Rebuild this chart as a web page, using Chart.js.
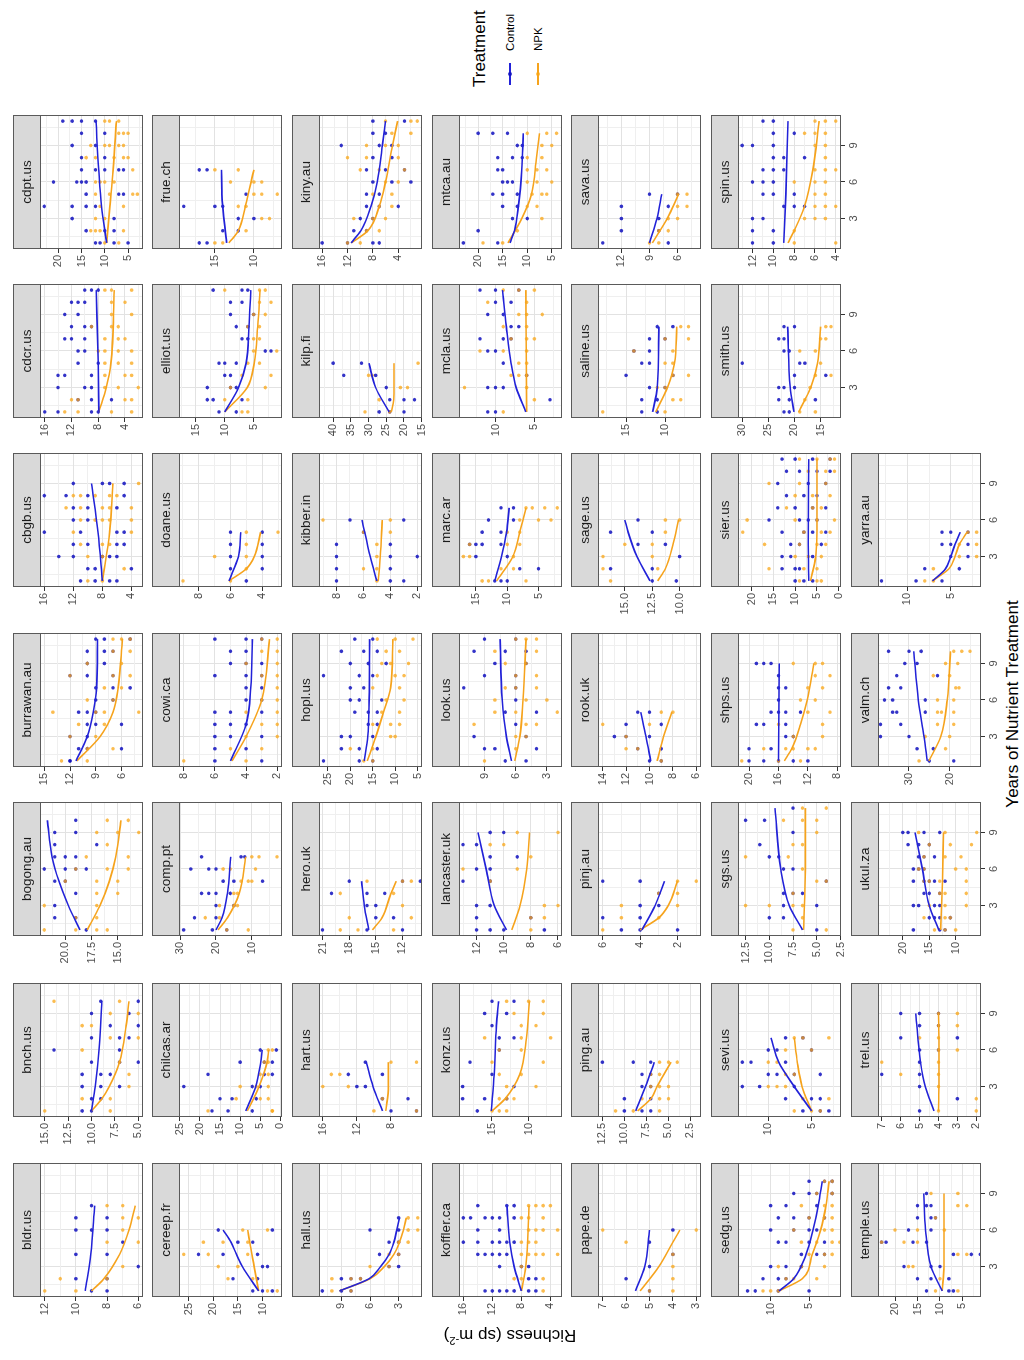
<!DOCTYPE html>
<html>
<head>
<meta charset="utf-8">
<title>Richness by years of nutrient treatment</title>
<script src="https://cdn.jsdelivr.net/npm/chart.js@4.4.1/dist/chart.umd.min.js"></script>
<style>
  html, body { margin: 0; padding: 0; background: #fff; }
  body { width: 1024px; height: 1360px; overflow: hidden; position: relative;
         font-family: "Liberation Sans", Arial, sans-serif; }
  /* the figure is laid out unrotated (1360 x 1024) and turned a quarter left */
  #page { position: absolute; left: 0; top: 0; width: 1360px; height: 1024px;
          transform-origin: 0 0; transform: translate(0, 1360px) rotate(-90deg); }
  #page canvas { position: absolute; }
  .txt { position: absolute; color: #000; white-space: nowrap; }
  .key { position: absolute; height: 2px; width: 22px; }
  .dot { position: absolute; width: 4px; height: 4px; border-radius: 2px; }
</style>
</head>
<body>
<div id="page"></div>
<script>
// Sites in facet order
const sites = ['bldr.us','bnch.us','bogong.au','burrawan.au','cbgb.us','cdcr.us','cdpt.us',
  'cereep.fr','chilcas.ar','comp.pt','cowi.ca','doane.us','elliot.us','frue.ch',
  'hall.us','hart.us','hero.uk','hopl.us','kibber.in','kilp.fi','kiny.au',
  'koffler.ca','konz.us','lancaster.uk','look.us','marc.ar','mcla.us','mtca.au',
  'pape.de','ping.au','pinj.au','rook.uk','sage.us','saline.us','sava.us',
  'sedg.us','sevi.us','sgs.us','shps.us','sier.us','smith.us','spin.us',
  'temple.us','trel.us','ukul.za','valm.ch','yarra.au'];

const treatments = ['Control', 'NPK'];
const yearTicks = [3, 6, 9];
const yearLim = [0.5, 11.5];

// richness axis limits and labelled ticks, per site
const yLims = [[5.7,12.3],[4.5,15.5],[12.6,22.4],[3.5,15.5],[2.4,16.6],[1.3,16.7],[1.8,23.9],
  [6.05,26.95],[-0.4,25.2],[1.6,30.3],[1.7,8.3],[2.75,9.25],[0.1,17.9],[6.4,19.6],
  [0.55,11.35],[4.35,16.45],[9.8,21.4],[4,27],[1.65,9.3],[14.9,44],[0.25,16.5],
  [2.4,16.6],[5.45,19.5],[5.7,13.3],[1.55,11.45],[1.25,17.7],[1.45,14.7],[2.9,23.9],
  [2.8,7.2],[1.3,13.0],[0.75,6.25],[5.6,14.4],[8.05,17.45],[5.4,18.6],[3.5,14.5],
  [0.85,14.25],[1.6,13.5],[2.45,13.3],[7.5,21.5],[-0.5,23.1],[11.1,30.8],[3.5,13.4],
  [0.85,23.8],[1.75,7.2],[5.2,24.7],[12.3,37.6],[1.5,13.4]];
const yTicks = [[6,8,10,12],[5,7.5,10,12.5,15],[15,17.5,20],[6,9,12,15],[4,8,12,16],[4,8,12,16],[5,10,15,20],
  [10,15,20,25],[0,5,10,15,20,25],[10,20,30],[2,4,6,8],[4,6,8],[5,10,15],[10,15],
  [3,6,9],[8,12,16],[12,15,18,21],[5,10,15,20,25],[2,4,6,8],[15,20,25,30,35,40],[4,8,12,16],
  [4,8,12,16],[10,15],[6,8,10,12],[3,6,9],[5,10,15],[5,10],[5,10,15,20],
  [3,4,5,6,7],[2.5,5,7.5,10,12.5],[2,4,6],[6,8,10,12,14],[10,12.5,15],[10,15],[6,9,12],
  [5,10],[5,10],[2.5,5,7.5,10,12.5],[8,12,16,20],[0,5,10,15,20],[15,20,25,30],[4,6,8,10,12],
  [5,10,15,20],[2,3,4,5,6,7],[10,15,20],[20,30],[5,10]];

// observed plot richness: [year, values...]
const ctrlPts = [
  [[1,9,8],[2,10,8],[3,6],[4,10,8],[5,7],[6,10,9,8],[7,10,8],[8,9]],
  [[1,11,10],[2,10,9],[3,11,9,7],[4,11,9,8],[5,10,7,5],[6,14,7],[7,10,7,6],[8,8,5],[9,10,6],[10,9,5]],
  [[1,18],[2,21,19],[3,21],[4,19],[5,21,20],[6,22,20,19,18],[7,21,20,19],[8,21,17],[9,21,19],[10,19]],
  [[1,12,12],[2,11,10,6],[3,12,10],[4,10,9,6],[5,11,10,9],[6,9,7],[7,9,7,5],[8,12,10,7],[9,10,8],[10,10,8,7],[11,9,8,5]],
  [[1,11,9,7,6],[2,10,9,4],[3,14,12,8,7,6],[4,12,10,6,5],[5,16,11,6,5],[6,12,10],[7,12,10,6],[8,16,13,10,5],[9,12,8,7,5]],
  [[1,16,14,9,8],[2,11,9,6],[3,14,10,9],[4,14,13,9],[5,11,8],[6,11,10],[7,13,12,10],[8,12,10,9],[9,13,11],[10,12,11,10],[11,10,9,8]],
  [[1,12,11,8,5],[2,14,10,8],[3,17,8],[4,23,17,14,12],[5,14,7,6],[6,21,16,15,14],[7,15,12,10,7,6],[8,15,10],[9,17,12],[10,15,10],[11,19,17,15,12]],
  [[1,12,10,8],[2,16,11],[3,10,9],[4,23,18,11],[5,15,12],[6,19,8]],
  [[1,17,13,7],[2,15,12,6],[3,24,7,5],[4,18,4,2],[5,10,4,2],[6,5,1]],
  [[1,29,21,17],[2,26,20],[3,20,15],[4,24,22,20,16],[5,18,15,7],[6,27,22,20],[7,24,13,12]],
  [[1,6,3],[2,6,4],[3,6,5,3],[4,6,5,4],[5,6,5,3],[6,4,3],[7,4,3],[8,6,4,3],[9,5,4,3],[10,5,4],[11,6,4,3]],
  [[1,5],[2,6,4],[3,6,4],[4,6,4],[5,6,4]],
  [[1,11,8],[2,13,12,7],[3,13,9,8],[4,10,9],[5,11,10,8],[6,3,2],[7,7,6],[8,8,6],[9,9,5],[10,9,7],[11,12,7,6]],
  [[1,17,16],[2,14,12],[3,12,10],[4,19,15,14],[5,11],[7,17,16]],
  [[1,11,9,8],[2,9,8,7],[3,4,3],[4,5,3],[5,4,3],[6,6,3],[7,3]],
  [[1,8,5],[2,9,6],[3,12,11],[4,13,9],[5,11]],
  [[1,21,16,12],[2,15,13],[3,16,15],[4,20,16,14],[5,18,12,10]],
  [[1,26,18,15],[2,22,18,14],[3,22,20,15],[4,16,14],[5,19,16,14],[6,20,18,13],[7,20,17],[8,26,18,15],[9,20,16,12],[10,22,17,14],[11,19,15]],
  [[1,8,4,3],[2,8,4],[3,8,4,2],[4,8,4],[5,6],[6,7,3]],
  [[1,27,24,20],[2,24,20,17],[3,25],[4,37,28],[5,40,32]],
  [[1,16,12,8,7],[2,11,9],[3,10,8],[4,9,7,4],[5,9,7],[6,8,5,2],[7,9,6,3],[8,8,5],[9,13,7,5],[10,8,6],[11,8,3]],
  [[1,13,12,11,10,9,7,6],[2,7,6],[3,11,8,7],[4,14,13,12,11,10],[5,16,14,12,11,10,9],[6,14,11],[7,16,15,13,12,11,9],[8,14,10,9]],
  [[1,17],[2,19,16,13],[3,19,12],[4,15],[5,18],[6,14],[7,14,12],[8,15],[9,16,13],[10,15,12]],
  [[1,12,11,10,7],[2,12,8],[3,12,11],[5,13,11],[6,12,11],[7,11,9],[8,13,12],[9,11,10]],
  [[1,7,5],[2,9,8,4],[3,10,5],[4,6],[5,7,4],[6,6],[7,11,6],[8,9,6],[9,8,5],[10,10,7,5],[11,9,6]],
  [[1,12,11,10],[2,8,5],[3,15,10],[4,16,15,14,11],[5,14,11],[6,13,9],[7,11,9]],
  [[1,11,10,1],[2,3],[3,11,10,9],[4,6],[5,9],[6,11,10],[7,12,9,8],[8,8,7],[9,11,9],[10,10,8],[11,12,10,7]],
  [[1,23,16],[2,20],[3,13,10],[4,15,12],[5,17,15,12],[6,15,14,13],[7,16,15],[8,16,13,11],[9,12,11],[10,20,17,14]],
  [[1,5],[2,6],[3,5],[4,4],[5,5],[6,4]],
  [[1,10,8,7],[2,10,7],[3,8,7],[4,8,7],[5,12.5,9,7]],
  [[1,5,4,2],[2,6,4],[3,4,3],[4,3],[5,6,4]],
  [[1,10,9],[2,11,9],[3,13,12,10],[4,12,9],[5,11,10]],
  [[1,12.5,10.3],[2,16.3,12.5],[3,10],[4,13.8,11.3],[5,16.3,12.5],[6,13.8]],
  [[1,13,11],[2,13,11],[3,12,10],[4,15,9],[5,13,12],[6,14,12],[7,12,10],[8,11,9]],
  [[1,14,7],[2,12,8],[3,12,8],[4,12,7],[5,9,6]],
  [[1,13,12,9,5],[2,11,9,8],[3,10,8,6],[4,6,4,3],[5,9,8,5,3],[6,10,7,5,4],[7,9,7,5,3],[8,10,8,4],[9,7,5,4,2],[10,5,3,2]],
  [[1,6,4,3],[2,8,5,4],[3,13,11,7],[4,10,9,7,4],[5,13,12,8],[6,10,9,5],[7,8,6]],
  [[1,5],[2,10,8.5],[3,8.5,5],[4,8.5,7.5,6.5],[5,4],[6,8.5,7.5],[7,10,9],[8,11],[9,7.5],[10,12.5,10.5],[11,7.5]],
  [[1,20,18,16,14,12],[2,20,17],[3,15,14],[4,19,18,15],[5,17,16,15,13],[6,16],[7,16,15],[8,16],[9,19,18,17]],
  [[1,10,8,6],[2,13,10,9],[3,13,11,6],[4,11,9,4],[5,13,8,6,3],[6,16,9,7,5],[7,14,10,6,3],[8,12,8,5],[9,14,7,3],[10,12,9,5,2],[11,13,10,6,2]],
  [[1,22,21],[2,23,21,16],[3,23,22,20],[4,20,14],[5,30,19,18],[6,22,21],[7,23,22],[8,22,20]],
  [[1,12,10],[2,12,10],[3,12,11],[4,9,8,7],[5,11,10,8],[6,12,11,10],[7,11,10,9],[8,10,9,7],[9,13,12,10],[10,10,8],[11,11,10]],
  [[1,13,8,7],[2,15,12,8],[3,18,12,10],[4,7,3,1],[5,23,22,16,13],[6,17,12],[7,15,12,11],[8,15,13,12],[9,13]],
  [[1,5],[2,3],[3,5],[4,7,5],[5,5],[6,5,4],[7,6,3],[8,5,4],[9,6,5,4]],
  [[1,18,13,12],[2,15,14,13,11],[3,18,17,14,13],[4,16,15,13],[5,18,16,15,14,12],[6,18,17,16],[7,17,16,14],[8,19,17,15],[9,20,19,16,13]],
  [[1,25,19],[2,28,24],[3,37,30],[4,37,32],[5,34,33,26],[6,36,34,26],[7,35,32],[8,33,23],[9,31,28],[10,35,30,27]],
  [[1,13,9,6],[2,8,4],[3,5,3],[4,6,5,3],[5,6,5,3]]
];
const npkPts = [
  [[1,12,10],[2,11,8],[3,7],[5,8,6],[6,7],[7,7,6],[8,8,7]],
  [[1,15,8],[2,11,8],[3,6],[4,6],[5,7],[6,11],[7,8,5],[8,11,10],[9,8,5],[10,14,7]],
  [[1,22,19,17,16],[2,19,17],[3,22,17],[4,17,15],[5,20,17,15],[6,19,16,14],[7,18,14],[8,16],[9,17,15,13],[10,16,14]],
  [[1,13,10],[2,10,7],[3,12,9],[4,11,8],[5,14,9,8,4],[6,10,7],[7,8,6],[8,12,7,5],[9,10,6],[10,7,5],[11,7,6,5]],
  [[1,10,8],[2,5],[3,10,8],[4,11,8,7],[5,12,4],[6,11,9,8,7,4],[7,13,11,8,7,4],[8,12,11,9,7,6],[9,3]],
  [[1,13,11,6,3],[2,12,11,4,3],[3,7,5,2],[4,7,4,3],[5,7,5,3],[6,8,7,5,3],[7,7,5,4],[8,9,6,5],[9,6,3],[10,6,4],[11,7,6,3]],
  [[1,10,7],[2,13,12,11,6],[3,12,10],[4,11,6],[5,12,9,4,3],[6,12,11,10,8],[7,4],[8,14,12,8,6,5],[9,13,10,9,7,6],[10,7,6,5],[11,10,9,7]],
  [[1,9,7],[2,17,12],[3,19,15],[4,26,21,13],[5,22,18,13],[6,14,9]],
  [[1,18,2,2],[2,11,5,3],[3,10,6,3],[4,5,3],[5,4,3],[6,3,2]],
  [[1,17,11],[2,23,19],[3,19,15,14],[4,15,14],[5,13,11,10],[6,18,16,9],[7,10,8,3]],
  [[1,8,4],[2,5,3],[3,4,2],[4,3,2],[5,4,2],[6,3,2],[7,2],[8,3,2],[9,4,2],[10,3,2],[11,3,2]],
  [[1,9,6],[2,5],[3,7,5],[4,5],[5,5,3]],
  [[1,7,6],[2,10,6],[3,9,3],[4,7,2],[5,6,4],[6,5,1],[7,5,4],[8,6,4],[9,5,3],[10,4,2],[11,10,4,3]],
  [[1,15,14],[2,11],[3,9,8],[4,12,11],[5,10,9,7],[6,13,10,9],[7,15,12]],
  [[1,10,8],[2,10,8,7],[3,6,4],[4,4,3],[5,3,2],[6,2,1],[7,2,1]],
  [[1,10,5],[2,9],[3,16,13],[4,15,14],[5,8,5]],
  [[1,19,17,13],[2,18,11],[3,12],[4,19,13],[5,16,12,11]],
  [[1,17,15],[2,20,15],[3,11,10],[4,15,11,9],[5,13,9],[6,12,8],[7,15,9],[8,14,10,8],[9,13,11,7],[10,12,9],[11,14,10,6]],
  [[1,5],[2,6,5],[3,5],[4,5],[5,6,4],[6,9,4]],
  [[1,31,24],[2,27],[3,21,19],[4,30,29],[5,16]],
  [[1,12,10],[2,9,7],[3,11,8,6],[4,7,5],[5,8,5],[6,6,4],[7,10,7,3],[8,12,9,4],[9,9,6,4],[10,5,2],[11,6,2,1]],
  [[1,5],[2,9,8,5],[3,8],[4,8,7,6,5,3],[5,8,7,6],[6,7,6,5,3],[7,8,7,5],[8,7,6,5,4]],
  [[1,15,14,13],[2,14,13,12],[3,13,9],[4,14,11],[5,15,8],[6,14,11],[7,16,11,7],[8,11,9],[9,12,8],[10,13,10,8]],
  [[1,8],[2,8,7],[3,7,6],[5,11],[6,13,9],[7,8],[8,11,10],[9,9,6]],
  [[1,9],[2,6],[3,6,5],[4,10,5,4],[5,8,6,2],[6,8,5,3],[7,7,6,4],[8,6,4],[9,7,5],[10,8,4],[11,6,5,4]],
  [[1,14,13,7],[2,11,9],[3,17,16,9],[4,16,10,8],[5,10,8],[6,8,5,3],[7,7,6,4,2]],
  [[1,9],[2,5],[3,14,6],[4,8,7,6],[5,7,6],[6,12,9,6],[7,8,6,5],[8,9,6],[9,7,6,4],[10,11,6],[11,9,7,5]],
  [[1,19,15],[2,12],[3,7],[4,10,8],[5,9,7,6],[6,10,8,5],[7,10,8,6],[8,10,7],[9,7,5],[10,10,6,4]],
  [[1,5,4],[2,4],[3,4],[4,4],[5,6],[6,7,3]],
  [[1,11,9,6],[2,8,6,5],[3,7,6,5],[4,7,6],[5,6,5,4]],
  [[1,6],[2,5,3],[3,5,2],[4,3,2],[5,2,1]],
  [[1,9],[2,12,11],[3,12],[4,14,10],[5,9,8]],
  [[1,16.3],[2,17,12],[3,17,12.5],[4,15,12.5],[5,11.3],[6,11.3,10]],
  [[1,18,10],[2,9,8],[3,11,10],[4,9,7],[5,10,9],[6,14,9],[7,10,7],[8,8,7]],
  [[1,9,8],[2,8,7],[3,7,6],[4,6,5],[5,6,5]],
  [[1,11,10,9],[2,8,7,4],[3,9,6,3],[4,5,3,2],[5,6,4,2,1],[6,7,3,2],[7,5,3,2],[8,6,3,2],[9,4,2],[10,3,2]],
  [[1,7,5,4],[2,6,3],[3,10,9,8],[4,8,7],[5,10,9],[6,8,5],[7,7,6,3]],
  [[1,7.5,4],[2,6.5],[3,12.5,10,7.5,6.5],[4,7.5],[5,5,4],[6,6.5],[7,12.5,8],[8,7.5,6.5],[9,5],[10,8.5,6.5,5],[11,6.5,4]],
  [[1,21,16,13],[2,18,15,14,12,11],[3,14,10],[4,16,10],[5,12,9],[6,13,11],[7,12,10],[8,11,9],[9,14,11,10]],
  [[1,9,5,4],[2,16,8,5],[3,10,7,4],[4,17,9,5,3],[5,22,8,4,2],[6,21,10,5,1],[7,12,6,4],[8,10,6,2],[9,16,9,3],[10,7,3,1],[11,9,5,2,1]],
  [[1,19,16],[2,18],[3,17],[4,16,13],[5,15],[6,19,16],[7,15,14],[8,14,13]],
  [[1,8,4],[2,8],[3,7,6,5],[4,6,5,4],[5,6,5],[6,8,6,5],[7,6,5,4],[8,5],[9,6,5],[10,7,6,5],[11,6,5,4]],
  [[1,11,6],[2,10],[3,17,16],[4,6,4],[5,23,18,15],[6,20,15,9],[7,11],[8,6,4],[9,12,6]],
  [[1,4,2],[2,2],[3,4],[4,6,4],[5,7,4],[6,4,3],[7,5,4],[8,4,3],[9,4,3]],
  [[1,14,12,10],[2,16,12,11],[3,15,12,8],[4,13,12,8],[5,16,15,13,8],[6,17,16,10,8],[7,16,12,9],[8,15,11,7],[9,17,12,6]],
  [[1,27.5],[2,21],[3,26,20],[4,23,19],[5,23,22,19],[6,23,19],[7,18.5,17.7],[8,24,20],[9,21,18],[10,19,17,15]],
  [[1,8,7],[2,7],[3,4,2],[4,4,2],[5,3,2]]
];

// fitted trends: [year, richness]
const ctrlFit = [
  [[1,9.4],[4,9.05],[8,8.8]],
  [[1,10],[3,9.6],[6,9.2],[10,8.9]],
  [[1,18.6],[3,19.7],[5,20.6],[7,21.25],[10,21.7]],
  [[1,11.3],[3,10.0],[5,9.3],[7,8.9],[11,8.8]],
  [[1,8.0],[5,8.6],[9,9.5]],
  [[1,7.9],[5,8.0],[11,8.3]],
  [[1,9.6],[4,10.7],[7,11.3],[11,11.9]],
  [[1,10.8],[3,14.1],[4,15.3],[5,16.4],[6,18]],
  [[1,8.6],[3,6.1],[5,4.9],[6,4.5]],
  [[1,20],[2,18.3],[4,16.8],[7,15.9]],
  [[1,5.0],[4,4.0],[7,3.7],[11,3.6]],
  [[1,6.1],[3,5.5],[5,5.35]],
  [[1,10],[3,7.6],[5,6.3],[8,5.8],[11,5.5]],
  [[1,13.5],[5,14.1],[7,14.15]],
  [[1,9.2],[2,6.1],[3,4.9],[4,4.0],[5,3.5],[6,3.2],[7,2.9]],
  [[1,9.0],[3,10.1],[5,10.9]],
  [[1,15.8],[3,16.3],[5,16.6]],
  [[1,16.9],[3,16.1],[6,15.8],[11,15.7]],
  [[1,5.0],[3,5.5],[6,6.1]],
  [[1,24.2],[3,28],[5,29.9]],
  [[1,11.45],[2,9.9],[4,8.3],[6,7.3],[9,6.5],[11,6.0]],
  [[1,8.0],[3,9.0],[5,9.6],[8,10.0]],
  [[1,15.1],[4,14.7],[8,14.4],[10,14.1]],
  [[1,9.8],[3,10.7],[6,11.3],[9,11.9]],
  [[1,6.4],[3,6.9],[6,7.3],[11,7.5]],
  [[1,12],[3,10.9],[5,10.1],[7,9.7]],
  [[1,6.1],[3,7.35],[5,8.0],[8,8.6],[11,9.1]],
  [[1,13.5],[2,12.6],[4,11.8],[7,11.1],[10,10.8]],
  [[1,5.6],[3,5.2],[6,5.0]],
  [[1,8.7],[3,7.6],[5,6.6]],
  [[1,3.9],[3,3.2],[5,2.7]],
  [[1,9.9],[3,10.3],[5,10.75]],
  [[1,12.7],[3,13.9],[5,14.7],[6,15.0]],
  [[1,11.6],[3,11.0],[8,10.8]],
  [[1,9.0],[3,8.2],[5,7.7]],
  [[1,8.9],[2,7.0],[4,5.4],[6,4.5],[8,3.8],[10,3.3]],
  [[1,5.0],[3,7.0],[5,8.8],[7,9.7]],
  [[1,6.5],[3,7.9],[6,8.8],[11,9.4]],
  [[1,16],[9,15.9]],
  [[1,6.9],[4,7.0],[11,6.9]],
  [[1,20.1],[3,20.8],[8,21.3]],
  [[1,9.0],[5,8.8],[11,8.6]],
  [[1,9.5],[3,12.0],[6,13.2],[9,13.6]],
  [[1,4.24],[3,4.7],[5,4.95],[9,5.2]],
  [[1,13.2],[3,15.0],[6,16.3],[9,17.7]],
  [[1,25.5],[3,26.3],[6,27.7],[10,28.8]],
  [[1,7.1],[2,5.6],[3,5.0],[4,4.5],[5,3.9]]
];
const npkFit = [
  [[1,9.0],[2,8.2],[4,7.2],[6,6.6],[8,6.2]],
  [[1,10],[2,8.9],[3,8.1],[5,7.0],[8,6.3],[10,6.0]],
  [[1,17.9],[3,16.7],[5,15.8],[7,15.2],[10,14.7]],
  [[1,11.2],[3,8.5],[5,7.0],[7,6.4],[11,5.9]],
  [[1,8.0],[5,7.0],[9,6.55]],
  [[1,7.9],[3,6.8],[5,6.1],[11,5.6]],
  [[1,9.6],[4,8.9],[7,8.2],[11,7.5]],
  [[1,10.8],[3,11.7],[5,12.6],[6,13.0]],
  [[1,8.2],[3,5.3],[5,3.3],[6,2.9]],
  [[1,19.4],[2,16.8],[4,13.5],[7,11.7]],
  [[1,4.9],[3,4.0],[6,3.0],[11,2.5]],
  [[1,6.1],[2,5.0],[3,4.5],[5,4.1]],
  [[1,10],[3,6.1],[5,4.9],[8,4.3],[11,3.9]],
  [[1,13.2],[2,12.0],[4,11.1],[7,10.0]],
  [[1,9.2],[2,6.0],[3,4.5],[4,3.5],[5,2.9],[6,2.5],[7,2.2]],
  [[1,8.6],[3,8.3],[5,8.3]],
  [[1,15.4],[2,14.3],[4,13.3],[5,12.7]],
  [[1,16.2],[3,14.3],[5,12.6],[7,11.0],[11,10.5]],
  [[1,4.9],[3,4.75],[6,4.6]],
  [[1,23.6],[2,22.9],[5,22.8]],
  [[1,11.4],[2,8.8],[4,7.0],[6,6.0],[9,4.9],[11,4.1]],
  [[1,8],[3,7.4],[8,6.95]],
  [[1,15],[2,13.2],[4,11.2],[7,10.3],[10,9.9]],
  [[1,9.4],[3,8.8],[6,8.3],[9,8.1]],
  [[1,6.1],[3,5.6],[6,5.3],[11,5.0]],
  [[1,11.7],[3,9.1],[5,8.0],[7,7.0]],
  [[1,6.0],[6,6.05],[11,6.1]],
  [[1,13.9],[3,11.1],[5,9.1],[8,8.1],[10,7.5]],
  [[1,5.4],[3,4.6],[5,4.0],[6,3.7]],
  [[1,8.5],[2,7.0],[3,6.3],[5,4.7]],
  [[1,4.0],[2,3.0],[3,2.5],[5,2.0]],
  [[1,9.35],[3,8.8],[5,8.1]],
  [[1,12.0],[2,11.3],[4,10.6],[6,10.1]],
  [[1,11.2],[3,9.7],[5,8.8],[8,8.5]],
  [[1,8.7],[3,7.1],[5,5.9]],
  [[1,8.9],[2,5.9],[4,4.6],[6,3.5],[8,2.8],[10,2.4]],
  [[1,5.0],[3,6.1],[5,6.65],[7,7.0]],
  [[1,6.4],[6,6.2],[11,6.2]],
  [[1,15.2],[2,14.2],[4,13.0],[6,12.1],[9,11.2]],
  [[1,6.5],[3,5.3],[6,5.0],[11,5.0]],
  [[1,19.2],[2,18],[3,16.9],[5,15.6],[8,15.0]],
  [[1,8.6],[2,8.0],[4,7.0],[7,6.2],[11,5.6]],
  [[1,9.5],[3,9.1],[9,9.1]],
  [[1,4.0],[5,3.97],[9,4.0]],
  [[1,12.85],[5,12.5],[9,12.3]],
  [[1,25.1],[3,22.2],[6,20.6],[10,19.8]],
  [[1,7.1],[2,5.2],[3,4.5],[4,4.0],[5,3.1]]
];

// ---- layout (unrotated frame) ----
const colLeft = [63, 243, 424, 593, 773, 942, 1111];
const rowTop = [13, 152, 292, 432, 571, 711, 851];
const AXIS_W = 42, STRIP_H = 27, PLOT_W = 135, PLOT_H = 103, PAD_R = 3, BOT_H = 22;

const CTRL_LINE = '#2222d8', NPK_LINE = '#f6a31c';
const CTRL_PT = 'rgba(15,15,190,0.85)', NPK_PT = 'rgba(250,165,20,0.75)';
const GRID_MAJOR = '#e2e2e2', GRID_MINOR = '#efefef';

Chart.defaults.font.family = '"Liberation Sans", Arial, sans-serif';
Chart.defaults.animation = false;

const page = document.getElementById('page');

function gridValues(lim, majors) {
  const step = majors.length > 1 ? majors[1] - majors[0] : 1;
  const out = [];
  let v = majors[0] - step;
  while (v <= lim[1] + 1e-9) {
    if (v >= lim[0] - 1e-9) out.push(v);
    v = Math.round((v + step / 2) * 1000) / 1000;
  }
  return out;
}

function isOnStep(v, majors) {
  const step = majors.length > 1 ? majors[1] - majors[0] : 1;
  const k = (v - majors[0]) / step;
  return Math.abs(k - Math.round(k)) < 1e-6;
}

function toXY(rows) {
  const out = [];
  rows.forEach(r => r.slice(1).forEach(v => out.push({ x: r[0], y: v })));
  return out;
}

function fitXY(rows) {
  return rows.map(r => ({ x: r[0], y: r[1] }));
}

// strip on top of the panel + panel border
const panelFrame = {
  id: 'panelFrame',
  beforeDraw(chart, args, opts) {
    const a = chart.chartArea, ctx = chart.ctx;
    ctx.save();
    ctx.fillStyle = '#ffffff';
    ctx.fillRect(a.left, a.top, a.right - a.left, a.bottom - a.top);
    ctx.fillStyle = '#d9d9d9';
    ctx.fillRect(a.left, a.top - STRIP_H, a.right - a.left, STRIP_H);
    ctx.strokeStyle = '#5a5a5a';
    ctx.lineWidth = 1;
    ctx.strokeRect(a.left + 0.5, a.top - STRIP_H + 0.5, a.right - a.left - 1, STRIP_H);
    ctx.fillStyle = '#1a1a1a';
    ctx.font = '13.5px "Liberation Sans", Arial, sans-serif';
    ctx.textAlign = 'center';
    ctx.textBaseline = 'middle';
    ctx.fillText(opts.label, (a.left + a.right) / 2, a.top - STRIP_H / 2 + 1);
    ctx.restore();
  },
  afterDatasetsDraw(chart) {
    const a = chart.chartArea, ctx = chart.ctx;
    ctx.save();
    ctx.strokeStyle = '#5a5a5a';
    ctx.lineWidth = 1;
    ctx.strokeRect(a.left + 0.5, a.top + 0.5, a.right - a.left - 1, a.bottom - a.top - 1);
    ctx.restore();
  }
};

function addPanel(i) {
  const row = Math.floor(i / 7), col = i % 7;
  const showX = row === 6 || (row === 5 && col >= 5);
  const canvas = document.createElement('canvas');
  canvas.width = AXIS_W + PLOT_W + PAD_R;
  canvas.height = STRIP_H + PLOT_H + BOT_H;
  canvas.style.left = (colLeft[col] - AXIS_W) + 'px';
  canvas.style.top = rowTop[row] + 'px';
  canvas.style.width = canvas.width + 'px';
  canvas.style.height = canvas.height + 'px';
  page.appendChild(canvas);

  const majors = yTicks[i];
  const lim = yLims[i];
  const yVals = gridValues(lim, majors);
  const decimals = majors.some(m => !Number.isInteger(m)) ? 1 : 0;
  const xVals = [1.5, 3, 4.5, 6, 7.5, 9, 10.5];

  new Chart(canvas, {
    type: 'scatter',
    data: {
      datasets: [
        { type: 'line', data: fitXY(ctrlFit[i]), borderColor: CTRL_LINE, borderWidth: 1.6,
          pointRadius: 0, cubicInterpolationMode: 'monotone', fill: false, order: 0 },
        { type: 'line', data: fitXY(npkFit[i]), borderColor: NPK_LINE, borderWidth: 1.6,
          pointRadius: 0, cubicInterpolationMode: 'monotone', fill: false, order: 0 },
        { data: toXY(npkPts[i]), backgroundColor: NPK_PT, borderWidth: 0, pointRadius: 1.8, order: 1 },
        { data: toXY(ctrlPts[i]), backgroundColor: CTRL_PT, borderWidth: 0, pointRadius: 1.8, order: 2 }
      ]
    },
    options: {
      responsive: false,
      devicePixelRatio: 1,
      events: [],
      layout: { padding: { top: STRIP_H, right: PAD_R, left: 0, bottom: 0 } },
      plugins: { legend: { display: false }, tooltip: { enabled: false }, panelFrame: { label: sites[i] } },
      scales: {
        x: {
          type: 'linear', min: yearLim[0], max: yearLim[1],
          afterBuildTicks: s => { s.ticks = xVals.map(v => ({ value: v })); },
          afterFit: s => { s.height = BOT_H; },
          border: { display: false },
          grid: {
            color: c => (c.tick && yearTicks.includes(c.tick.value)) ? GRID_MAJOR : GRID_MINOR,
            lineWidth: 1,
            drawTicks: showX, tickLength: 4,
            tickColor: c => (c.tick && yearTicks.includes(c.tick.value)) ? '#333333' : 'rgba(0,0,0,0)'
          },
          ticks: {
            display: showX, autoSkip: false, maxRotation: 0, padding: 2,
            color: '#4d4d4d', font: { size: 11 },
            callback: v => yearTicks.includes(v) ? String(v) : ''
          }
        },
        y: {
          type: 'linear', min: lim[0], max: lim[1],
          afterBuildTicks: s => { s.ticks = yVals.map(v => ({ value: v })); },
          afterFit: s => { s.width = AXIS_W; },
          border: { display: false },
          grid: {
            color: c => (c.tick && isOnStep(c.tick.value, majors)) ? GRID_MAJOR : GRID_MINOR,
            lineWidth: 1,
            drawTicks: true, tickLength: 4,
            tickColor: c => (c.tick && isOnStep(c.tick.value, majors)) ? '#333333' : 'rgba(0,0,0,0)'
          },
          ticks: {
            autoSkip: false, padding: 2, color: '#4d4d4d', font: { size: 11 },
            callback: v => isOnStep(v, majors) ? v.toFixed(decimals) : ''
          }
        }
      }
    },
    plugins: [panelFrame]
  });
}

sites.forEach((s, i) => addPanel(i));

// ---- axis titles and legend (HTML text in the unrotated frame) ----
function addText(html, css) {
  const d = document.createElement('div');
  d.className = 'txt';
  d.innerHTML = html;
  Object.assign(d.style, css);
  page.appendChild(d);
  return d;
}

addText('Years of Nutrient Treatment', { left: '356px', top: '1003px', width: '600px',
  textAlign: 'center', fontSize: '17px', lineHeight: '20px' });
addText('Richness (sp m<sup style="font-size:11px">-2</sup>)', { left: '-131px', top: '500px', width: '300px',
  height: '20px', textAlign: 'center', fontSize: '17px', lineHeight: '20px', transform: 'rotate(-90deg)' });

addText('Treatment', { left: '1273px', top: '470px', fontSize: '17px', lineHeight: '20px' });
const keyColors = [[CTRL_LINE, CTRL_PT], [NPK_LINE, NPK_PT]];
treatments.forEach((t, j) => {
  const cy = 510 + j * 28;
  const k = document.createElement('div');
  k.className = 'key';
  Object.assign(k.style, { left: '1275px', top: (cy - 1) + 'px', background: keyColors[j][0] });
  page.appendChild(k);
  const d = document.createElement('div');
  d.className = 'dot';
  Object.assign(d.style, { left: '1284px', top: (cy - 2) + 'px', background: keyColors[j][1] });
  page.appendChild(d);
  addText(t, { left: '1309px', top: (cy - 8) + 'px', fontSize: '11.5px', lineHeight: '16px' });
});
</script>
</body>
</html>
